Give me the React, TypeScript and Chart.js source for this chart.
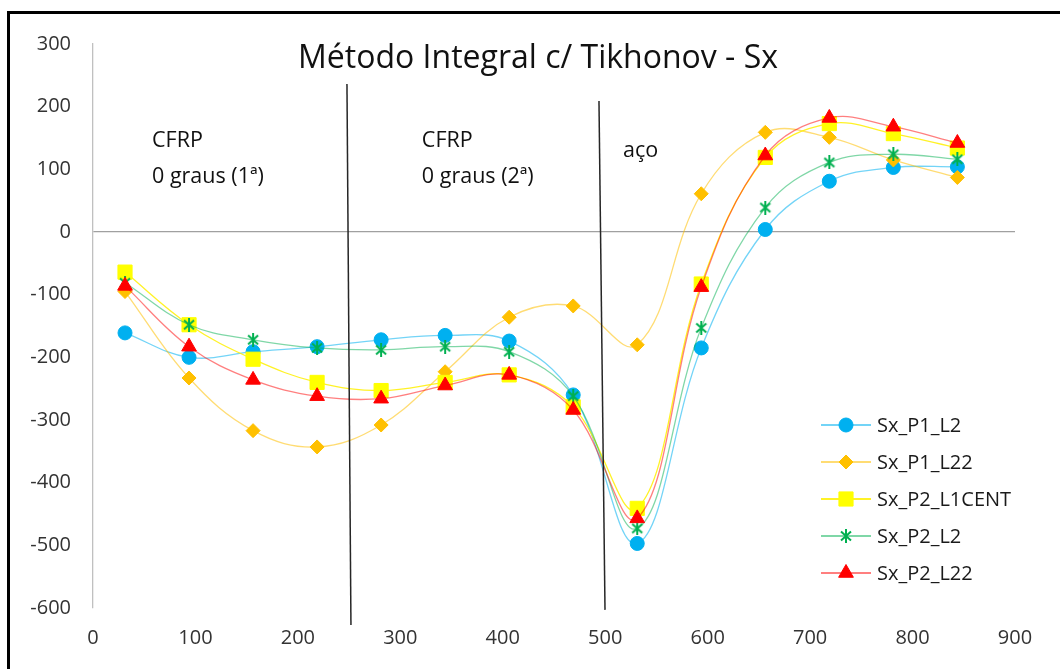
import React, { useEffect, useRef } from "react";
import { Chart, registerables } from "chart.js";
import { drawPoint } from "chart.js/helpers";

Chart.register(...registerables);

// ---------- data ----------
const xPositions = [31.25, 93.75, 156.25, 218.75, 281.25, 343.75, 406.25, 468.75, 531.25, 593.75, 656.25, 718.75, 781.25, 843.75];
const sxP1L2 = [-161, -200, -191, -183, -172, -165, -174, -260, -497, -185, 4, 81, 103, 104];
const sxP1L22 = [-95, -233, -317, -343, -308, -223, -136, -118, -180, 61, 159, 151, 115, 87];
const sxP2L1CENT = [-64, -148, -203, -240, -253, -240, -228, -279, -441, -83, 119, 173, 157, 134];
const sxP2L2 = [-81, -148, -172, -185, -188, -183, -191, -262, -473, -153, 39, 111, 124, 116];
const sxP2L22 = [-86, -183, -236, -262, -266, -245, -228, -284, -457, -88, 122, 182, 168, 142];

const seriesLabels = ["Sx_P1_L2", "Sx_P1_L22", "Sx_P2_L1CENT", "Sx_P2_L2", "Sx_P2_L22"];
const titleText = "Método Integral c/ Tikhonov - Sx";

const xMin = 0, xMax = 900, xStep = 100;
const yMin = -600, yMax = 300, yStep = 100;

// annotation: region labels (data coordinates of first-line baseline)
const regionLabels = [
  { lines: ["CFRP", "0 graus (1ª)"], x: 57.6, y: 135.6 },
  { lines: ["CFRP", "0 graus (2ª)"], x: 321, y: 135.6 },
  { lines: ["aço"], x: 517.4, y: 119.7 },
];
// annotation: slanted divider lines (data coordinates)
const dividers = [
  { x1: 247.9, y1: 236, x2: 251.8, y2: -627 },
  { x1: 493.9, y1: 209, x2: 499.8, y2: -603 },
];

// ---------- styles ----------
const FONT = "'Open Sans', 'Noto Sans', sans-serif";

function makeAsterisk(color: string, size: number) {
  const c = document.createElement("canvas");
  c.width = size;
  c.height = size;
  const g = c.getContext("2d")!;
  g.strokeStyle = color;
  g.lineWidth = 2;
  const m = size / 2;
  g.beginPath();
  g.moveTo(m, 0);
  g.lineTo(m, size);
  g.moveTo(2, 2.5);
  g.lineTo(size - 2, size - 2.5);
  g.moveTo(size - 2, 2.5);
  g.lineTo(2, size - 2.5);
  g.stroke();
  return c;
}

export default function App() {
  const ref = useRef<HTMLCanvasElement | null>(null);

  useEffect(() => {
    const canvas = ref.current;
    if (!canvas) return;
    const asterisk = makeAsterisk("#00B050", 14);

    const styles = [
      { line: "rgba(0,176,240,0.55)", fill: "#00B0F0", pointStyle: "circle", radius: 7 },
      { line: "rgba(255,192,0,0.55)", fill: "#FFC000", pointStyle: "rectRot", radius: 7 },
      { line: "rgba(255,240,0,0.85)", fill: "#FFFF00", pointStyle: "rect", radius: 10 },
      { line: "rgba(0,176,80,0.5)", fill: "#00B050", pointStyle: asterisk as any, radius: 7 },
      { line: "rgba(255,0,0,0.5)", fill: "#FF0000", pointStyle: "triangle", radius: 8.5 },
    ];
    const values = [sxP1L2, sxP1L22, sxP2L1CENT, sxP2L2, sxP2L22];

    const datasets = values.map((vals, i) => ({
      label: seriesLabels[i],
      data: vals.map((v, j) => ({ x: xPositions[j], y: v })),
      borderColor: styles[i].line,
      backgroundColor: styles[i].fill,
      borderWidth: 1.3,
      pointStyle: styles[i].pointStyle,
      pointRadius: styles[i].radius,
      pointBackgroundColor: styles[i].fill,
      pointBorderColor: styles[i].fill,
      pointBorderWidth: 1,
      tension: 0.38,
      order: 5 - i,
      clip: false as any,
    }));

    const decor = {
      id: "decor",
      beforeDraw(chart: any) {
        const ctx = chart.ctx;
        ctx.save();
        ctx.fillStyle = "#ffffff";
        ctx.fillRect(0, 0, chart.width, chart.height);
        ctx.strokeStyle = "#000000";
        ctx.lineWidth = 3;
        ctx.beginPath();
        ctx.moveTo(8.5, chart.height);
        ctx.lineTo(8.5, 12.5);
        ctx.lineTo(chart.width, 12.5);
        ctx.stroke();
        ctx.restore();
      },
      afterDatasetsDraw(chart: any) {
        const ctx = chart.ctx;
        const xs = chart.scales.x;
        const ys = chart.scales.y;
        ctx.save();
        // dividers
        ctx.strokeStyle = "#262626";
        ctx.lineWidth = 1.5;
        dividers.forEach((d) => {
          ctx.beginPath();
          ctx.moveTo(xs.getPixelForValue(d.x1), ys.getPixelForValue(d.y1));
          ctx.lineTo(xs.getPixelForValue(d.x2), ys.getPixelForValue(d.y2));
          ctx.stroke();
        });
        // region labels
        ctx.fillStyle = "#111111";
        ctx.font = `21.5px ${FONT}`;
        ctx.textAlign = "left";
        ctx.textBaseline = "alphabetic";
        regionLabels.forEach((r) => {
          const px = xs.getPixelForValue(r.x);
          const py = ys.getPixelForValue(r.y);
          r.lines.forEach((t, k) => ctx.fillText(t, px, py + k * 36));
        });
        // title
        ctx.font = `32px ${FONT}`;
        ctx.textAlign = "center";
        ctx.fillText(titleText, 538, 68);
        ctx.restore();
      },
      afterDraw(chart: any) {
        const ctx = chart.ctx;
        ctx.save();
        const x0 = 821, x1 = 871, tx = 877;
        const top = 425, step = 37;
        ctx.font = `20px ${FONT}`;
        ctx.textBaseline = "middle";
        ctx.textAlign = "left";
        chart.data.datasets.forEach((ds: any, i: number) => {
          const y = top + i * step;
          ctx.strokeStyle = ds.borderColor;
          ctx.lineWidth = 2;
          ctx.beginPath();
          ctx.moveTo(x0, y);
          ctx.lineTo(x1, y);
          ctx.stroke();
          ctx.fillStyle = ds.pointBackgroundColor;
          ctx.strokeStyle = ds.pointBorderColor;
          ctx.lineWidth = 1;
          drawPoint(ctx, { pointStyle: ds.pointStyle, radius: ds.pointRadius, rotation: 0, borderWidth: 1 } as any, (x0 + x1) / 2, y);
          ctx.fillStyle = "#1a1a1a";
          ctx.fillText(ds.label, tx, y + 1);
        });
        ctx.restore();
      },
    };

    const chart = new Chart(canvas, {
      type: "line",
      data: { datasets: datasets as any },
      options: {
        animation: false,
        responsive: false,
        devicePixelRatio: 1,
        layout: { padding: { left: 0, top: 44, right: 45, bottom: 0 } },
        plugins: { legend: { display: false }, tooltip: { enabled: false }, title: { display: false } },
        scales: {
          x: {
            type: "linear",
            min: xMin,
            max: xMax,
            ticks: { stepSize: xStep, padding: 18, color: "#333333", font: { family: FONT, size: 20 } },
            grid: { display: false, drawTicks: false },
            border: { display: false },
            afterFit: (s: any) => { s.height = 61; },
          },
          y: {
            type: "linear",
            min: yMin,
            max: yMax,
            ticks: { stepSize: yStep, padding: 22, color: "#333333", font: { family: FONT, size: 20 } },
            grid: {
              drawTicks: false,
              color: (c: any) => (c.tick && c.tick.value === 0 ? "#A0A0A0" : "rgba(0,0,0,0)"),
              lineWidth: 1.3,
            },
            border: { display: true, color: "#C0C0C0", width: 1.3 },
            afterFit: (s: any) => { s.width = 93; },
          },
        },
      },
      plugins: [decor],
    });
    return () => chart.destroy();
  }, []);

  return (
    <div style={{ position: "fixed", left: 0, top: 0, width: 1060, height: 669, background: "#fff" }}>
      <canvas ref={ref} width={1060} height={669} style={{ display: "block" }} />
    </div>
  );
}
